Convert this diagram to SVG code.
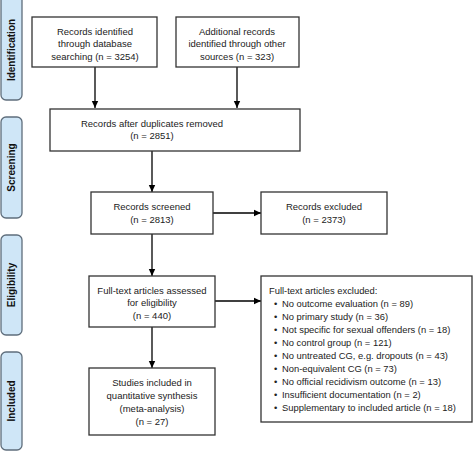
<svg xmlns="http://www.w3.org/2000/svg" width="474" height="453" viewBox="0 0 474 453">
<defs>
<marker id="ah" markerWidth="8" markerHeight="8" refX="7" refY="4" orient="auto" markerUnits="userSpaceOnUse">
<path d="M0,0.8 L7,4 L0,7.2 Z" fill="#000"/>
</marker>
<style>
.box{fill:#fff;stroke:#333;stroke-width:1.3}
.tab{fill:#cfe6f7;stroke:#5f6e7c;stroke-width:1.3}
.t{font-family:"Liberation Sans",Arial,sans-serif;font-size:9.5px;fill:#222;text-anchor:middle}
.tl{font-family:"Liberation Sans",Arial,sans-serif;font-size:9.4px;fill:#222}
.lab{font-family:"Liberation Sans",Arial,sans-serif;font-size:10px;font-weight:bold;fill:#111;text-anchor:middle}
.c{stroke:#000;stroke-width:1.3;fill:none;marker-end:url(#ah)}
</style>
</defs>
<rect width="474" height="453" fill="#fff"/>
<g id="tab-identification"><rect class="tab" x="1" y="-6" width="21" height="106" rx="5"/><text class="lab" transform="translate(15,50) rotate(-90)">Identification</text></g>
<g id="tab-screening"><rect class="tab" x="1" y="117" width="21" height="101" rx="5"/><text class="lab" transform="translate(15,167.5) rotate(-90)">Screening</text></g>
<g id="tab-eligibility"><rect class="tab" x="1" y="235" width="21" height="100" rx="5"/><text class="lab" transform="translate(15,285) rotate(-90)">Eligibility</text></g>
<g id="tab-included"><rect class="tab" x="1" y="352" width="21" height="98" rx="5"/><text class="lab" transform="translate(15,401) rotate(-90)">Included</text></g>

<g id="connectors">
<path class="c" d="M95,67 V108"/>
<path class="c" d="M237,67 V108"/>
<path class="c" d="M152,151 V192"/>
<path class="c" d="M213,213 H261"/>
<path class="c" d="M152,234 V276"/>
<path class="c" d="M215,301 H261"/>
<path class="c" d="M152,327 V368"/>
</g>

<g id="n1"><rect class="box" x="32" y="17" width="125" height="50"/>
<text class="t" x="95" y="35">Records identified</text>
<text class="t" x="95" y="47">through database</text>
<text class="t" x="95" y="60">searching (n = 3254)</text></g>

<g id="n2"><rect class="box" x="176" y="17" width="123" height="50"/>
<text class="t" x="237" y="35">Additional records</text>
<text class="t" x="237" y="47">identified through other</text>
<text class="t" x="237" y="60">sources (n = 323)</text></g>

<g id="n3"><rect class="box" x="50" y="109" width="250" height="42"/>
<text class="t" x="152" y="127">Records after duplicates removed</text>
<text class="t" x="152" y="139">(n = 2851)</text></g>

<g id="n4"><rect class="box" x="91" y="192" width="122" height="42"/>
<text class="t" x="152" y="210">Records screened</text>
<text class="t" x="152" y="223">(n = 2813)</text></g>

<g id="n5"><rect class="box" x="261" y="192" width="126" height="42"/>
<text class="t" x="324" y="210">Records excluded</text>
<text class="t" x="324" y="223">(n = 2373)</text></g>

<g id="n6"><rect class="box" x="89" y="276" width="126" height="51"/>
<text class="t" x="152" y="294">Full-text articles assessed</text>
<text class="t" x="152" y="306">for eligibility</text>
<text class="t" x="152" y="319">(n = 440)</text></g>

<g id="n7"><rect class="box" x="261" y="276" width="211" height="146"/>
<text class="tl" x="269" y="294">Full-text articles excluded:</text>
<g class="tl">
<text x="274" y="307">•</text><text x="282" y="307">No outcome evaluation (n = 89)</text>
<text x="274" y="320">•</text><text x="282" y="320">No primary study (n = 36)</text>
<text x="274" y="333">•</text><text x="282" y="333">Not specific for sexual offenders (n = 18)</text>
<text x="274" y="346">•</text><text x="282" y="346">No control group (n = 121)</text>
<text x="274" y="359">•</text><text x="282" y="359">No untreated CG, e.g. dropouts (n = 43)</text>
<text x="274" y="372">•</text><text x="282" y="372">Non-equivalent CG (n = 73)</text>
<text x="274" y="385">•</text><text x="282" y="385">No official recidivism outcome (n = 13)</text>
<text x="274" y="398">•</text><text x="282" y="398">Insufficient documentation (n = 2)</text>
<text x="274" y="411">•</text><text x="282" y="411">Supplementary to included article  (n = 18)</text>
</g></g>

<g id="n8"><rect class="box" x="89" y="368" width="126" height="67"/>
<text class="t" x="152" y="386">Studies included in</text>
<text class="t" x="152" y="399">quantitative synthesis</text>
<text class="t" x="152" y="412">(meta-analysis)</text>
<text class="t" x="152" y="425">(n = 27)</text></g>
</svg>
